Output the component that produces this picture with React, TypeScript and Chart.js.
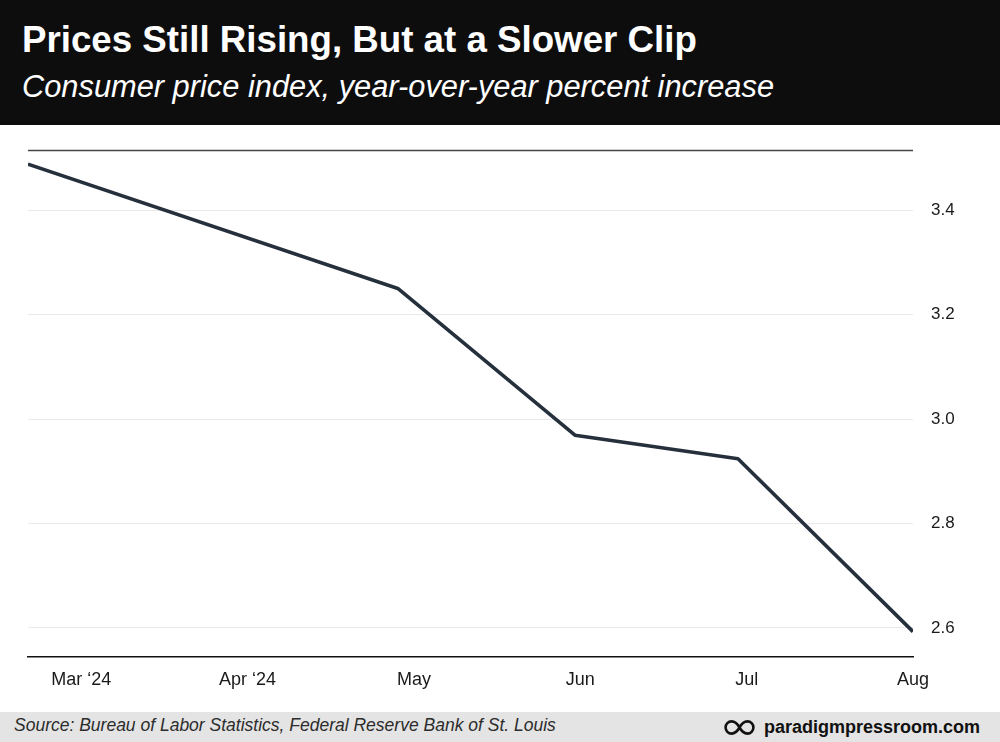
import React, { useEffect, useRef } from "react";
import { Chart, registerables } from "chart.js";

Chart.register(...registerables);

// Tick labels on the x axis (one per month position 0..5)
const monthLabels = ["Mar ‘24", "Apr ‘24", "May", "Jun", "Jul", "Aug"];
// Position of each observation in months from "Mar ‘24"
const pointMonths = [-0.32, 1.903, 2.968, 3.948, 5.0];
// CPI year-over-year percent increase
const cpiValues = [3.488, 3.25, 2.969, 2.924, 2.593];

const X_MIN = -0.32;
const X_MAX = 5.0;
const Y_MIN = 2.5444;
const Y_MAX = 3.515;

const FONT = "'Liberation Sans', Arial, Helvetica, sans-serif";

const topLinePlugin = {
  id: "topLine",
  afterDatasetsDraw(chart: any) {
    const { ctx, chartArea } = chart;
    ctx.save();
    ctx.strokeStyle = "#444";
    ctx.lineWidth = 1.3;
    ctx.beginPath();
    ctx.moveTo(chartArea.left, chartArea.top + 0.5);
    ctx.lineTo(chartArea.right, chartArea.top + 0.5);
    ctx.stroke();
    ctx.restore();
  },
};

function LineChart() {
  const ref = useRef<HTMLCanvasElement | null>(null);
  useEffect(() => {
    if (!ref.current) return;
    const data = pointMonths.map((m, i) => ({ x: m, y: cpiValues[i] }));
    const chart = new Chart(ref.current, {
      type: "line",
      data: {
        datasets: [
          {
            data,
            borderColor: "#25303c",
            borderWidth: 3.6,
            borderJoinStyle: "round",
            pointRadius: 0,
            tension: 0,
            fill: false,
          },
        ],
      },
      options: {
        responsive: false,
        animation: false,
        events: [],
        layout: { padding: { left: 28, top: 25, right: 0, bottom: 0 } },
        plugins: { legend: { display: false }, tooltip: { enabled: false } },
        scales: {
          x: {
            type: "linear",
            min: X_MIN,
            max: X_MAX,
            afterFit: (s: any) => {
              s.height = 55;
              s.paddingLeft = 0;
              s.paddingRight = 0;
            },
            grid: { display: false, drawTicks: false },
            border: { display: true, color: "#111", width: 1.5 },
            ticks: {
              stepSize: 1,
              includeBounds: false,
              autoSkip: false,
              maxRotation: 0,
              padding: 12,
              color: "#1a1a1a",
              font: { family: FONT, size: 18 },
              callback: (v: any) => {
                const i = Math.round(Number(v));
                return Math.abs(Number(v) - i) < 1e-6 ? monthLabels[i] ?? "" : "";
              },
            },
          },
          y: {
            position: "right",
            min: Y_MIN,
            max: Y_MAX,
            afterFit: (s: any) => {
              s.width = 87;
              s.paddingTop = 0;
              s.paddingBottom = 0;
            },
            grid: { color: "#e9e9e9", lineWidth: 1, drawTicks: false },
            border: { display: false },
            ticks: {
              stepSize: 0.2,
              includeBounds: false,
              padding: 18,
              color: "#1a1a1a",
              font: { family: FONT, size: 17 },
              callback: (v: any) => Number(v).toFixed(1),
            },
          },
        },
      },
      plugins: [topLinePlugin],
    } as any);
    return () => chart.destroy();
  }, []);
  return <canvas ref={ref} width={1000} height={587} style={{ display: "block" }} />;
}

export default function App() {
  return (
    <div
      style={{
        position: "absolute",
        left: 0,
        top: 0,
        width: 1000,
        height: 742,
        background: "#fff",
        overflow: "hidden",
        fontFamily: FONT,
      }}
    >
      <div
        style={{
          position: "absolute",
          left: 0,
          top: 0,
          width: 1000,
          height: 125,
          background: "#0e0d0e",
        }}
      >
        <div
          style={{
            position: "absolute",
            left: 22,
            top: 22,
            fontSize: 36.7,
            lineHeight: 1,
            fontWeight: 700,
            color: "#fff",
            whiteSpace: "nowrap",
          }}
        >
          Prices Still Rising, But at a Slower Clip
        </div>
        <div
          style={{
            position: "absolute",
            left: 22,
            top: 71.5,
            fontSize: 30.8,
            lineHeight: 1,
            fontStyle: "italic",
            color: "#fff",
            whiteSpace: "nowrap",
          }}
        >
          Consumer price index, year-over-year percent increase
        </div>
      </div>
      <div style={{ position: "absolute", left: 0, top: 125, width: 1000, height: 587 }}>
        <LineChart />
      </div>
      <div
        style={{
          position: "absolute",
          left: 0,
          top: 712,
          width: 1000,
          height: 30,
          background: "#e4e4e4",
        }}
      >
        <div
          style={{
            position: "absolute",
            left: 14,
            top: 5.2,
            fontSize: 17.5,
            lineHeight: 1,
            fontStyle: "italic",
            color: "#2c2c2c",
            whiteSpace: "nowrap",
          }}
        >
          Source: Bureau of Labor Statistics, Federal Reserve Bank of St. Louis
        </div>
        <div
          style={{
            position: "absolute",
            right: 20,
            top: 6,
            display: "flex",
            alignItems: "center",
            height: 18,
            whiteSpace: "nowrap",
          }}
        >
          <svg width={31} height={15} viewBox="0 0 31 15" style={{ marginRight: 9, display: "block" }}>
            <path
              d="M15.5 7.5 C12.5 2.2 9.8 1.4 7.6 1.4 C4.2 1.4 1.6 4.1 1.6 7.5 C1.6 10.9 4.2 13.6 7.6 13.6 C9.8 13.6 12.5 12.8 15.5 7.5 C18.5 2.2 21.2 1.4 23.4 1.4 C26.8 1.4 29.4 4.1 29.4 7.5 C29.4 10.9 26.8 13.6 23.4 13.6 C21.2 13.6 18.5 12.8 15.5 7.5 Z"
              fill="none"
              stroke="#111"
              strokeWidth={2.6}
            />
          </svg>
          <span style={{ fontSize: 18, lineHeight: 1, fontWeight: 700, color: "#111" }}>
            paradigmpressroom.com
          </span>
        </div>
      </div>
    </div>
  );
}
